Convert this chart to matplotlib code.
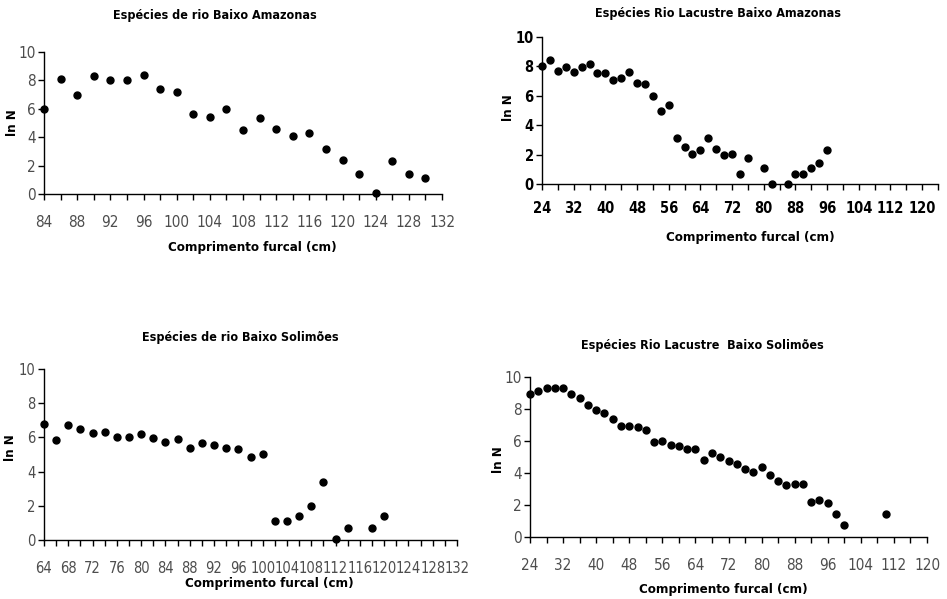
import matplotlib
matplotlib.use("Agg")
import matplotlib.pyplot as plt
from matplotlib.ticker import MultipleLocator

plt.rcParams['font.family'] = ['DejaVu Sans']
plt.rcParams['font.stretch'] = 'condensed'

W, H = 947, 599

# ln N by fork length class (cm) for each species group / stretch
rio_am_x = list(range(84, 131, 2))
rio_am_y = [6.0, 8.1, 7.0, 8.3, 8.0, 8.0, 8.4, 7.4, 7.15, 5.65, 5.4, 6.0,
            4.5, 5.35, 4.6, 4.05, 4.3, 3.15, 2.4, 1.4, 0.05, 2.35, 1.4, 1.15]

lac_am_x = [24, 26, 28, 30, 32, 34, 36, 38, 40, 42, 44, 46, 48, 50, 52, 54,
            56, 58, 60, 62, 64, 66, 68, 70, 72, 74, 76, 80, 82, 86, 88, 90,
            92, 94, 96]
lac_am_y = [8.05, 8.45, 7.7, 7.95, 7.65, 7.95, 8.15, 7.55, 7.55, 7.05, 7.2,
            7.65, 6.9, 6.8, 6.0, 4.95, 5.35, 3.1, 2.55, 2.05, 2.3, 3.1, 2.35,
            1.95, 2.05, 0.65, 1.75, 1.1, 0.0, 0.0, 0.65, 0.65, 1.1, 1.4, 2.3]

rio_so_x = [64, 66, 68, 70, 72, 74, 76, 78, 80, 82, 84, 86, 88, 90, 92, 94,
            96, 98, 100, 102, 104, 106, 108, 110, 112, 114, 118, 120]
rio_so_y = [6.76, 5.86, 6.74, 6.52, 6.25, 6.29, 6.04, 6.0, 6.17, 5.96, 5.71,
            5.88, 5.36, 5.65, 5.57, 5.36, 5.32, 4.87, 5.05, 1.1, 1.1, 1.4,
            2.0, 3.38, 0.04, 0.7, 0.7, 1.4]

lac_so_x = [24, 26, 28, 30, 32, 34, 36, 38, 40, 42, 44, 46, 48, 50, 52, 54,
            56, 58, 60, 62, 64, 66, 68, 70, 72, 74, 76, 78, 80, 82, 84, 86,
            88, 90, 92, 94, 96, 98, 100, 110]
lac_so_y = [8.94, 9.12, 9.33, 9.33, 9.33, 8.94, 8.66, 8.25, 7.91, 7.75, 7.35,
            6.95, 6.95, 6.89, 6.68, 5.93, 5.99, 5.76, 5.70, 5.47, 5.47, 4.84,
            5.26, 4.97, 4.78, 4.57, 4.24, 4.09, 4.36, 3.86, 3.49, 3.26, 3.32,
            3.32, 2.21, 2.34, 2.11, 1.44, 0.75, 1.44]

panels = [
    dict(x=rio_am_x, y=rio_am_y, title="Espécies de rio Baixo Amazonas",
         box=(44, 52, 442, 194), xlim=(84, 132), major=4, minor=2, bold=False,
         title_xy=(215, 15), xlab_xy=(252, 248), ylab_xy=(13, 123), tsize=11),
    dict(x=lac_am_x, y=lac_am_y, title="Espécies Rio Lacustre Baixo Amazonas",
         box=(542, 37, 938, 184), xlim=(24, 124), major=8, minor=4, bold=True,
         title_xy=(718, 14), xlab_xy=(750, 237), ylab_xy=(508, 108), tsize=10.5),
    dict(x=rio_so_x, y=rio_so_y, title="Espécies de rio Baixo Solimões",
         box=(44, 369, 457, 540), xlim=(64, 132), major=4, minor=2, bold=False,
         title_xy=(240, 338), xlab_xy=(269, 583), ylab_xy=(11, 448), tsize=10.5),
    dict(x=lac_so_x, y=lac_so_y, title="Espécies Rio Lacustre  Baixo Solimões",
         box=(530, 377, 927, 537), xlim=(24, 120), major=8, minor=4, bold=False,
         title_xy=(702, 345), xlab_xy=(723, 590), ylab_xy=(498, 460), tsize=11),
]

fig = plt.figure(figsize=(W / 100, H / 100), dpi=100)


def fx(px):
    return px / W


def fy(py):
    return 1 - py / H


for p in panels:
    l, t, r, b = p["box"]
    ax = fig.add_axes([fx(l), fy(b), (r - l) / W, (b - t) / H])
    ax.plot(p["x"], p["y"], "o", color="black", ms=5, clip_on=False)
    ax.set_xlim(*p["xlim"])
    ax.set_ylim(0, 10)
    ax.xaxis.set_major_locator(MultipleLocator(p["major"]))
    ax.xaxis.set_minor_locator(MultipleLocator(p["minor"]))
    ax.yaxis.set_major_locator(MultipleLocator(2))
    for s in ("top", "right"):
        ax.spines[s].set_visible(False)
    for s in ("left", "bottom"):
        ax.spines[s].set_linewidth(1.0)
    ax.tick_params(which="both", direction="out", width=1.0, color="black",
                   length=4)
    weight = "bold" if p["bold"] else "normal"
    tcol = "black" if p["bold"] else "0.3"
    ax.tick_params(axis="x", pad=11 if not p["bold"] else 8,
                   labelsize=p["tsize"])
    ax.tick_params(axis="y", pad=2, labelsize=p["tsize"])
    for lab in ax.get_xticklabels() + ax.get_yticklabels():
        lab.set_fontweight(weight)
        lab.set_color(tcol)

    fig.text(fx(p["title_xy"][0]), fy(p["title_xy"][1]), p["title"],
             ha="center", va="center", fontsize=9, fontweight="bold")
    fig.text(fx(p["xlab_xy"][0]), fy(p["xlab_xy"][1]), "Comprimento furcal (cm)",
             ha="center", va="center", fontsize=9.5, fontweight="bold")
    fig.text(fx(p["ylab_xy"][0]), fy(p["ylab_xy"][1]), "ln N",
             ha="center", va="center", fontsize=9.5, fontweight="bold",
             rotation=90)

fig.savefig("out.png", dpi=100)
